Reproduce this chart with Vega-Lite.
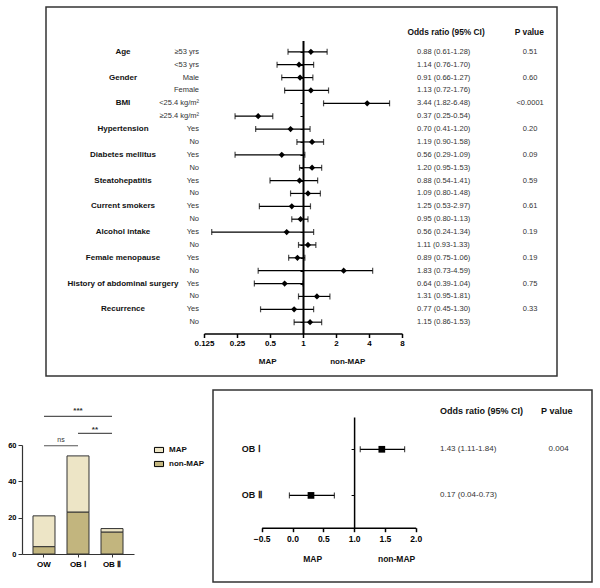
{
  "$schema": "https://vega.github.io/schema/vega-lite/v6.json",
  "padding": {"left": 7, "top": 6, "right": 0, "bottom": 0},
  "background": "white",
  "config": {"font": "Liberation Sans", "text": {"font": "Liberation Sans"}},
  "datasets": {
    "forest": [
      {"key": "Age ≥53 yrs", "group": "Age", "sub": "≥53 yrs", "or": 1.18, "lo": 0.73, "hi": 1.66, "ortext": "0.88 (0.61-1.28)", "p": "0.51"},
      {"key": "Age <53 yrs", "group": "", "sub": "<53 yrs", "or": 0.92, "lo": 0.58, "hi": 1.25, "ortext": "1.14 (0.76-1.70)", "p": ""},
      {"key": "Gender Male", "group": "Gender", "sub": "Male", "or": 0.94, "lo": 0.64, "hi": 1.23, "ortext": "0.91 (0.66-1.27)", "p": "0.60"},
      {"key": "Gender Female", "group": "", "sub": "Female", "or": 1.18, "lo": 0.68, "hi": 1.71, "ortext": "1.13 (0.72-1.76)", "p": ""},
      {"key": "BMI <25.4", "group": "BMI", "sub": "<25.4 kg/m²", "or": 3.85, "lo": 1.54, "hi": 6.16, "ortext": "3.44 (1.82-6.48)", "p": "<0.0001"},
      {"key": "BMI ≥25.4", "group": "", "sub": "≥25.4 kg/m²", "or": 0.39, "lo": 0.24, "hi": 0.53, "ortext": "0.37 (0.25-0.54)", "p": ""},
      {"key": "Hypertension Yes", "group": "Hypertension", "sub": "Yes", "or": 0.77, "lo": 0.37, "hi": 1.16, "ortext": "0.70 (0.41-1.20)", "p": "0.20"},
      {"key": "Hypertension No", "group": "", "sub": "No", "or": 1.21, "lo": 0.88, "hi": 1.54, "ortext": "1.19 (0.90-1.58)", "p": ""},
      {"key": "Diabetes Yes", "group": "Diabetes mellitus", "sub": "Yes", "or": 0.64, "lo": 0.24, "hi": 1.04, "ortext": "0.56 (0.29-1.09)", "p": "0.09"},
      {"key": "Diabetes No", "group": "", "sub": "No", "or": 1.21, "lo": 0.93, "hi": 1.48, "ortext": "1.20 (0.95-1.53)", "p": ""},
      {"key": "Steatohepatitis Yes", "group": "Steatohepatitis", "sub": "Yes", "or": 0.93, "lo": 0.50, "hi": 1.36, "ortext": "0.88 (0.54-1.41)", "p": "0.59"},
      {"key": "Steatohepatitis No", "group": "", "sub": "No", "or": 1.11, "lo": 0.77, "hi": 1.44, "ortext": "1.09 (0.80-1.48)", "p": ""},
      {"key": "Smokers Yes", "group": "Current smokers", "sub": "Yes", "or": 0.79, "lo": 0.40, "hi": 1.17, "ortext": "1.25 (0.53-2.97)", "p": "0.61"},
      {"key": "Smokers No", "group": "", "sub": "No", "or": 0.95, "lo": 0.79, "hi": 1.11, "ortext": "0.95 (0.80-1.13)", "p": ""},
      {"key": "Alcohol Yes", "group": "Alcohol intake", "sub": "Yes", "or": 0.71, "lo": 0.147, "hi": 1.25, "ortext": "0.56 (0.24-1.34)", "p": "0.19"},
      {"key": "Alcohol No", "group": "", "sub": "No", "or": 1.11, "lo": 0.91, "hi": 1.31, "ortext": "1.11 (0.93-1.33)", "p": ""},
      {"key": "Menopause Yes", "group": "Female menopause", "sub": "Yes", "or": 0.89, "lo": 0.74, "hi": 1.04, "ortext": "0.89 (0.75-1.06)", "p": "0.19"},
      {"key": "Menopause No", "group": "", "sub": "No", "or": 2.35, "lo": 0.39, "hi": 4.32, "ortext": "1.83 (0.73-4.59)", "p": ""},
      {"key": "Surgery Yes", "group": "History of abdominal surgery", "sub": "Yes", "or": 0.68, "lo": 0.36, "hi": 1.0, "ortext": "0.64 (0.39-1.04)", "p": "0.75"},
      {"key": "Surgery No", "group": "", "sub": "No", "or": 1.34, "lo": 0.91, "hi": 1.76, "ortext": "1.31 (0.95-1.81)", "p": ""},
      {"key": "Recurrence Yes", "group": "Recurrence", "sub": "Yes", "or": 0.83, "lo": 0.41, "hi": 1.25, "ortext": "0.77 (0.45-1.30)", "p": "0.33"},
      {"key": "Recurrence No", "group": "", "sub": "No", "or": 1.16, "lo": 0.83, "hi": 1.48, "ortext": "1.15 (0.86-1.53)", "p": ""}
    ],
    "bars": [
      {"group": "OW", "status": "MAP", "count": 17},
      {"group": "OW", "status": "non-MAP", "count": 4},
      {"group": "OB Ⅰ", "status": "MAP", "count": 31},
      {"group": "OB Ⅰ", "status": "non-MAP", "count": 23},
      {"group": "OB Ⅱ", "status": "MAP", "count": 2},
      {"group": "OB Ⅱ", "status": "non-MAP", "count": 12}
    ],
    "brackets": [
      {"from": "OW", "to": "OB Ⅰ", "label": "ns"},
      {"from": "OB Ⅰ", "to": "OB Ⅱ", "label": "**"},
      {"from": "OW", "to": "OB Ⅱ", "label": "***"}
    ],
    "ob": [
      {"key": "OB Ⅰ", "or": 1.45, "lo": 1.10, "hi": 1.82, "ortext": "1.43 (1.11-1.84)", "p": "0.004"},
      {"key": "OB Ⅱ", "or": 0.30, "lo": -0.05, "hi": 0.68, "ortext": "0.17 (0.04-0.73)", "p": ""}
    ]
  },
  "spacing": 12,
  "resolve": {"legend": {"color": "independent"}},
  "vconcat": [
    {
      "width": 511,
      "height": 369,
      "view": {"stroke": "#333", "strokeWidth": 1.5},
      "data": {"name": "forest"},
      "resolve": {"scale": {"y": "independent"}},
      "layer": [
        {
          "mark": {"type": "rule", "color": "black", "strokeWidth": 1.2},
          "encoding": {
            "x": {"field": "lo", "type": "quantitative", "title": null, "scale": {"type": "log", "base": 2, "domain": [0.125, 8], "range": [158, 356], "nice": false}},
            "x2": {"field": "hi"},
            "y": {"field": "key", "type": "nominal", "sort": null, "scale": {"type": "point", "range": [33.5, 326.5], "padding": 0.88}, "axis": null}
          }
        },
        {
          "mark": {"type": "tick", "color": "black", "thickness": 1.2, "size": 6},
          "encoding": {
            "x": {"field": "lo", "type": "quantitative", "title": null, "scale": {"type": "log", "base": 2, "domain": [0.125, 8], "range": [158, 356], "nice": false}},
            "y": {"field": "key", "type": "nominal", "sort": null, "scale": {"type": "point", "range": [33.5, 326.5], "padding": 0.88}, "axis": null}
          }
        },
        {
          "mark": {"type": "tick", "color": "black", "thickness": 1.2, "size": 6},
          "encoding": {
            "x": {"field": "hi", "type": "quantitative", "title": null, "scale": {"type": "log", "base": 2, "domain": [0.125, 8], "range": [158, 356], "nice": false}},
            "y": {"field": "key", "type": "nominal", "sort": null, "scale": {"type": "point", "range": [33.5, 326.5], "padding": 0.88}, "axis": null}
          }
        },
        {
          "mark": {"type": "point", "shape": "diamond", "filled": true, "color": "black", "size": 38, "opacity": 1},
          "encoding": {
            "x": {"field": "or", "type": "quantitative", "title": null, "scale": {"type": "log", "base": 2, "domain": [0.125, 8], "range": [158, 356], "nice": false},
              "axis": {"values": [0.125, 0.25, 0.5, 1, 2, 4, 8], "format": "~g", "title": null, "offset": -42.5, "grid": false, "domainColor": "black", "domainWidth": 1.5, "tickColor": "black", "tickWidth": 1.5, "tickSize": 4, "labelFont": "Liberation Sans", "labelFontWeight": "bold", "labelFontSize": 8, "labelColor": "black", "labelPadding": 2, "labelFlush": false}},
            "y": {"field": "key", "type": "nominal", "sort": null, "scale": {"type": "point", "range": [33.5, 326.5], "padding": 0.88},
              "axis": {"orient": "left", "offset": -257, "labels": false, "title": null, "grid": false, "domainColor": "black", "domainWidth": 2, "tickColor": "black", "tickSize": 3, "tickWidth": 1}}
          }
        },
        {
          "mark": {"type": "text", "align": "center", "baseline": "middle", "fontWeight": "bold", "fontSize": 8, "color": "#111"},
          "encoding": {
            "x": {"datum": 0.0228, "type": "quantitative", "title": null, "scale": {"type": "log", "base": 2, "domain": [0.125, 8], "range": [158, 356], "nice": false}},
            "y": {"field": "key", "type": "nominal", "sort": null, "scale": {"type": "point", "range": [33.5, 326.5], "padding": 0.88}, "axis": null},
            "text": {"field": "group"}
          }
        },
        {
          "mark": {"type": "text", "align": "right", "baseline": "middle", "fontSize": 7.5, "color": "#333"},
          "encoding": {
            "x": {"datum": 0.1126, "type": "quantitative", "title": null, "scale": {"type": "log", "base": 2, "domain": [0.125, 8], "range": [158, 356], "nice": false}},
            "y": {"field": "key", "type": "nominal", "sort": null, "scale": {"type": "point", "range": [33.5, 326.5], "padding": 0.88}, "axis": null},
            "text": {"field": "sub"}
          }
        },
        {
          "mark": {"type": "text", "align": "left", "baseline": "middle", "fontSize": 7.5, "color": "#333"},
          "encoding": {
            "x": {"datum": 10.96, "type": "quantitative", "title": null, "scale": {"type": "log", "base": 2, "domain": [0.125, 8], "range": [158, 356], "nice": false}},
            "y": {"field": "key", "type": "nominal", "sort": null, "scale": {"type": "point", "range": [33.5, 326.5], "padding": 0.88}, "axis": null},
            "text": {"field": "ortext"}
          }
        },
        {
          "mark": {"type": "text", "align": "center", "baseline": "middle", "fontSize": 7.5, "color": "#333"},
          "encoding": {
            "x": {"datum": 118, "type": "quantitative", "title": null, "scale": {"type": "log", "base": 2, "domain": [0.125, 8], "range": [158, 356], "nice": false}},
            "y": {"field": "key", "type": "nominal", "sort": null, "scale": {"type": "point", "range": [33.5, 326.5], "padding": 0.88}, "axis": null},
            "text": {"field": "p"}
          }
        },
        {
          "data": {"values": [{"label": "Odds ratio (95% CI)"}]},
          "mark": {"type": "text", "align": "center", "baseline": "middle", "fontSize": 8.4, "fontWeight": "bold", "color": "#111"},
          "encoding": {
            "x": {"datum": 20.2, "type": "quantitative", "title": null, "scale": {"type": "log", "base": 2, "domain": [0.125, 8], "range": [158, 356], "nice": false}},
            "y": {"datum": -0.54, "type": "quantitative", "scale": {"domain": [1, 22], "range": [44.8, 315.2], "nice": false, "zero": false},
              "axis": {"orient": "left", "title": null, "labels": false, "ticks": false, "domain": false, "grid": false, "minExtent": 38, "maxExtent": 38}},
            "text": {"field": "label"}
          }
        },
        {
          "data": {"values": [{"label": "P value"}]},
          "mark": {"type": "text", "align": "center", "baseline": "middle", "fontSize": 8.4, "fontWeight": "bold", "color": "#111"},
          "encoding": {
            "x": {"datum": 116, "type": "quantitative", "title": null, "scale": {"type": "log", "base": 2, "domain": [0.125, 8], "range": [158, 356], "nice": false}},
            "y": {"datum": -0.54, "type": "quantitative", "scale": {"domain": [1, 22], "range": [44.8, 315.2], "nice": false, "zero": false}, "axis": null},
            "text": {"field": "label"}
          }
        },
        {
          "data": {"values": [{"label": "MAP"}]},
          "mark": {"type": "text", "align": "center", "baseline": "middle", "fontSize": 8, "fontWeight": "bold", "color": "#111"},
          "encoding": {
            "x": {"datum": 0.476, "type": "quantitative", "title": null, "scale": {"type": "log", "base": 2, "domain": [0.125, 8], "range": [158, 356], "nice": false}},
            "y": {"datum": 25.09, "type": "quantitative", "scale": {"domain": [1, 22], "range": [44.8, 315.2], "nice": false, "zero": false}, "axis": null},
            "text": {"field": "label"}
          }
        },
        {
          "data": {"values": [{"label": "non-MAP"}]},
          "mark": {"type": "text", "align": "center", "baseline": "middle", "fontSize": 8, "fontWeight": "bold", "color": "#111"},
          "encoding": {
            "x": {"datum": 2.56, "type": "quantitative", "title": null, "scale": {"type": "log", "base": 2, "domain": [0.125, 8], "range": [158, 356], "nice": false}},
            "y": {"datum": 25.09, "type": "quantitative", "scale": {"domain": [1, 22], "range": [44.8, 315.2], "nice": false, "zero": false}, "axis": null},
            "text": {"field": "label"}
          }
        }
      ]
    },
    {
      "spacing": 7,
      "resolve": {"legend": {"color": "independent"}},
      "hconcat": [
        {
          "width": 88,
          "height": 164,
          "view": {"stroke": null},
          "data": {"name": "bars"},
          "layer": [
            {
              "mark": {"type": "bar", "stroke": "#333", "strokeWidth": 1},
              "encoding": {
                "x": {"field": "group", "type": "nominal", "sort": null, "title": null, "scale": {"type": "band", "domain": ["OW", "OB Ⅰ", "OB Ⅱ"], "range": [-24, 88], "paddingInner": 0.353, "paddingOuter": 0.3235},
                  "axis": {"title": null, "labelAngle": 0, "labelFontWeight": "bold", "labelFontSize": 8, "labelColor": "black", "tickSize": 3, "tickColor": "#333", "domainColor": "#333", "domainWidth": 1.2, "labelPadding": 3}},
                "y": {"field": "count", "type": "quantitative", "stack": "zero", "title": null, "scale": {"domain": [0, 60], "range": [164, 55], "nice": false},
                  "axis": {"title": null, "values": [0, 20, 40, 60], "offset": 24, "grid": false, "labelFontWeight": "bold", "labelFontSize": 7.5, "labelColor": "black", "tickSize": 4, "tickColor": "#333", "domainColor": "#333", "domainWidth": 1.2, "labelPadding": 2}},
                "color": {"field": "status", "type": "nominal", "scale": {"domain": ["MAP", "non-MAP"], "range": ["#ede5c6", "#c2b57e"]},
                  "legend": {"title": null, "orient": "none", "legendX": 109, "legendY": 56, "symbolType": "M-1.4,-0.8H1.4V0.8H-1.4Z", "symbolSize": 42, "symbolStrokeColor": "black", "symbolStrokeWidth": 1, "labelFontSize": 8, "labelFontWeight": "bold", "labelColor": "#111", "rowPadding": 4, "labelOffset": 6}},
                "order": {"field": "status", "sort": "descending"}
              }
            },
            {
              "data": {"name": "brackets"},
              "transform": [{"filter": "datum.label == 'ns'"}],
              "mark": {"type": "rule", "color": "#555", "strokeWidth": 1.2},
              "encoding": {
                "x": {"field": "from", "type": "nominal", "title": null, "scale": {"type": "band", "domain": ["OW", "OB Ⅰ", "OB Ⅱ"], "range": [-24, 88], "paddingInner": 0.353, "paddingOuter": 0.3235}},
                "x2": {"field": "to"},
                "y": {"datum": 59.6, "type": "quantitative", "title": null, "scale": {"domain": [0, 60], "range": [164, 55], "nice": false}}
              }
            },
            {
              "data": {"name": "brackets"},
              "transform": [{"filter": "datum.label == '**'"}],
              "mark": {"type": "rule", "color": "#555", "strokeWidth": 1.2},
              "encoding": {
                "x": {"field": "from", "type": "nominal", "title": null, "scale": {"type": "band", "domain": ["OW", "OB Ⅰ", "OB Ⅱ"], "range": [-24, 88], "paddingInner": 0.353, "paddingOuter": 0.3235}},
                "x2": {"field": "to"},
                "y": {"datum": 66.4, "type": "quantitative", "title": null, "scale": {"domain": [0, 60], "range": [164, 55], "nice": false}}
              }
            },
            {
              "data": {"name": "brackets"},
              "transform": [{"filter": "datum.label == '***'"}],
              "mark": {"type": "rule", "color": "#555", "strokeWidth": 1.2},
              "encoding": {
                "x": {"field": "from", "type": "nominal", "title": null, "scale": {"type": "band", "domain": ["OW", "OB Ⅰ", "OB Ⅱ"], "range": [-24, 88], "paddingInner": 0.353, "paddingOuter": 0.3235}},
                "x2": {"field": "to"},
                "y": {"datum": 75.8, "type": "quantitative", "title": null, "scale": {"domain": [0, 60], "range": [164, 55], "nice": false}}
              }
            },
            {
              "data": {"name": "brackets"},
              "transform": [{"filter": "datum.label == 'ns'"}],
              "mark": {"type": "text", "align": "center", "baseline": "alphabetic", "fontSize": 7, "color": "#333"},
              "encoding": {
                "x": {"field": "from", "type": "nominal", "title": null, "bandPosition": 1.27, "scale": {"type": "band", "domain": ["OW", "OB Ⅰ", "OB Ⅱ"], "range": [-24, 88], "paddingInner": 0.353, "paddingOuter": 0.3235}},
                "y": {"datum": 61.8, "type": "quantitative", "title": null, "scale": {"domain": [0, 60], "range": [164, 55], "nice": false}},
                "text": {"field": "label"}
              }
            },
            {
              "data": {"name": "brackets"},
              "transform": [{"filter": "datum.label == '**'"}],
              "mark": {"type": "text", "align": "center", "baseline": "alphabetic", "fontSize": 8, "fontWeight": "bold", "color": "#333"},
              "encoding": {
                "x": {"field": "from", "type": "nominal", "title": null, "bandPosition": 1.27, "scale": {"type": "band", "domain": ["OW", "OB Ⅰ", "OB Ⅱ"], "range": [-24, 88], "paddingInner": 0.353, "paddingOuter": 0.3235}},
                "y": {"datum": 67.2, "type": "quantitative", "title": null, "scale": {"domain": [0, 60], "range": [164, 55], "nice": false}},
                "text": {"field": "label"}
              }
            },
            {
              "data": {"name": "brackets"},
              "transform": [{"filter": "datum.label == '***'"}],
              "mark": {"type": "text", "align": "center", "baseline": "alphabetic", "fontSize": 8, "fontWeight": "bold", "color": "#333"},
              "encoding": {
                "x": {"field": "from", "type": "nominal", "title": null, "bandPosition": 2.045, "scale": {"type": "band", "domain": ["OW", "OB Ⅰ", "OB Ⅱ"], "range": [-24, 88], "paddingInner": 0.353, "paddingOuter": 0.3235}},
                "y": {"datum": 77.5, "type": "quantitative", "title": null, "scale": {"domain": [0, 60], "range": [164, 55], "nice": false}},
                "text": {"field": "label"}
              }
            }
          ]
        },
        {
          "width": 379,
          "height": 192,
          "view": {"stroke": "#333", "strokeWidth": 1.5},
          "data": {"name": "ob"},
          "resolve": {"scale": {"y": "independent"}},
          "layer": [
            {
              "mark": {"type": "rule", "color": "black", "strokeWidth": 1.2},
              "encoding": {
                "x": {"field": "lo", "type": "quantitative", "title": null, "scale": {"domain": [-0.5, 2], "range": [48.7, 202.7], "nice": false, "zero": false}},
                "x2": {"field": "hi"},
                "y": {"field": "key", "type": "nominal", "sort": null, "scale": {"type": "point", "range": [27, 137.7], "padding": 0.7}, "axis": null}
              }
            },
            {
              "mark": {"type": "tick", "color": "black", "thickness": 1.2, "size": 6},
              "encoding": {
                "x": {"field": "lo", "type": "quantitative", "title": null, "scale": {"domain": [-0.5, 2], "range": [48.7, 202.7], "nice": false, "zero": false}},
                "y": {"field": "key", "type": "nominal", "sort": null, "scale": {"type": "point", "range": [27, 137.7], "padding": 0.7}, "axis": null}
              }
            },
            {
              "mark": {"type": "tick", "color": "black", "thickness": 1.2, "size": 6},
              "encoding": {
                "x": {"field": "hi", "type": "quantitative", "title": null, "scale": {"domain": [-0.5, 2], "range": [48.7, 202.7], "nice": false, "zero": false}},
                "y": {"field": "key", "type": "nominal", "sort": null, "scale": {"type": "point", "range": [27, 137.7], "padding": 0.7}, "axis": null}
              }
            },
            {
              "mark": {"type": "point", "shape": "square", "filled": true, "color": "black", "size": 45, "opacity": 1},
              "encoding": {
                "x": {"field": "or", "type": "quantitative", "title": null, "scale": {"domain": [-0.5, 2], "range": [48.7, 202.7], "nice": false, "zero": false},
                  "axis": {"values": [-0.5, 0, 0.5, 1, 1.5, 2], "format": ".1f", "title": null, "offset": -54.3, "grid": false, "domainColor": "black", "domainWidth": 1.5, "tickColor": "black", "tickWidth": 1.5, "tickSize": 4, "labelFontWeight": "bold", "labelFontSize": 8.5, "labelColor": "black", "labelPadding": 3, "labelFlush": false}},
                "y": {"field": "key", "type": "nominal", "sort": null, "scale": {"type": "point", "range": [27, 137.7], "padding": 0.7},
                  "axis": {"orient": "left", "offset": -141.1, "labels": false, "title": null, "grid": false, "domainColor": "black", "domainWidth": 1.5, "tickColor": "black", "tickSize": 3, "tickWidth": 1}}
              }
            },
            {
              "mark": {"type": "text", "align": "left", "baseline": "middle", "fontSize": 9, "fontWeight": "bold", "color": "#111"},
              "encoding": {
                "x": {"datum": -0.825, "type": "quantitative", "title": null, "scale": {"domain": [-0.5, 2], "range": [48.7, 202.7], "nice": false, "zero": false}},
                "y": {"field": "key", "type": "nominal", "sort": null, "scale": {"type": "point", "range": [27, 137.7], "padding": 0.7}, "axis": null},
                "text": {"field": "key"}
              }
            },
            {
              "mark": {"type": "text", "align": "left", "baseline": "middle", "fontSize": 8, "color": "#333"},
              "encoding": {
                "x": {"datum": 2.394, "type": "quantitative", "title": null, "scale": {"domain": [-0.5, 2], "range": [48.7, 202.7], "nice": false, "zero": false}},
                "y": {"field": "key", "type": "nominal", "sort": null, "scale": {"type": "point", "range": [27, 137.7], "padding": 0.7}, "axis": null},
                "text": {"field": "ortext"}
              }
            },
            {
              "mark": {"type": "text", "align": "center", "baseline": "middle", "fontSize": 8, "color": "#333"},
              "encoding": {
                "x": {"datum": 4.32, "type": "quantitative", "title": null, "scale": {"domain": [-0.5, 2], "range": [48.7, 202.7], "nice": false, "zero": false}},
                "y": {"field": "key", "type": "nominal", "sort": null, "scale": {"type": "point", "range": [27, 137.7], "padding": 0.7}, "axis": null},
                "text": {"field": "p"}
              }
            },
            {
              "data": {"values": [{"label": "Odds ratio (95% CI)"}]},
              "mark": {"type": "text", "align": "left", "baseline": "middle", "fontSize": 9, "fontWeight": "bold", "color": "#111"},
              "encoding": {
                "x": {"datum": 2.394, "type": "quantitative", "title": null, "scale": {"domain": [-0.5, 2], "range": [48.7, 202.7], "nice": false, "zero": false}},
                "y": {"datum": 0.169, "type": "quantitative", "scale": {"domain": [1, 2], "range": [59.3, 105.4], "nice": false, "zero": false}, "axis": null},
                "text": {"field": "label"}
              }
            },
            {
              "data": {"values": [{"label": "P value"}]},
              "mark": {"type": "text", "align": "center", "baseline": "middle", "fontSize": 9, "fontWeight": "bold", "color": "#111"},
              "encoding": {
                "x": {"datum": 4.29, "type": "quantitative", "title": null, "scale": {"domain": [-0.5, 2], "range": [48.7, 202.7], "nice": false, "zero": false}},
                "y": {"datum": 0.169, "type": "quantitative", "scale": {"domain": [1, 2], "range": [59.3, 105.4], "nice": false, "zero": false}, "axis": null},
                "text": {"field": "label"}
              }
            },
            {
              "data": {"values": [{"label": "MAP"}]},
              "mark": {"type": "text", "align": "center", "baseline": "middle", "fontSize": 8.5, "fontWeight": "bold", "color": "#111"},
              "encoding": {
                "x": {"datum": 0.328, "type": "quantitative", "title": null, "scale": {"domain": [-0.5, 2], "range": [48.7, 202.7], "nice": false, "zero": false}},
                "y": {"datum": 3.373, "type": "quantitative", "scale": {"domain": [1, 2], "range": [59.3, 105.4], "nice": false, "zero": false}, "axis": null},
                "text": {"field": "label"}
              }
            },
            {
              "data": {"values": [{"label": "non-MAP"}]},
              "mark": {"type": "text", "align": "center", "baseline": "middle", "fontSize": 8.5, "fontWeight": "bold", "color": "#111"},
              "encoding": {
                "x": {"datum": 1.69, "type": "quantitative", "title": null, "scale": {"domain": [-0.5, 2], "range": [48.7, 202.7], "nice": false, "zero": false}},
                "y": {"datum": 3.373, "type": "quantitative", "scale": {"domain": [1, 2], "range": [59.3, 105.4], "nice": false, "zero": false}, "axis": null},
                "text": {"field": "label"}
              }
            }
          ]
        }
      ]
    }
  ]
}
